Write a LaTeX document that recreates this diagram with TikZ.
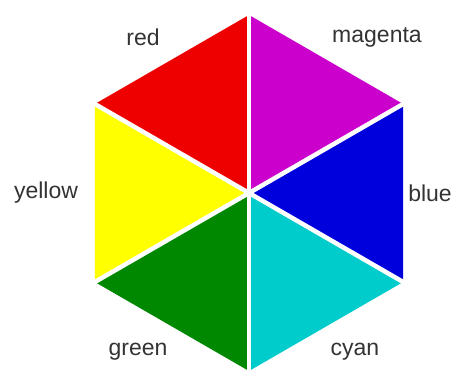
\documentclass[tikz,border=0pt]{standalone}
\usepackage{fontspec}
\setmainfont{Liberation Sans}
\usetikzlibrary{calc}
\definecolor{cred}{RGB}{238,0,0}
\definecolor{cmag}{RGB}{204,0,204}
\definecolor{cblue}{RGB}{0,0,221}
\definecolor{ccyan}{RGB}{0,204,204}
\definecolor{cgreen}{RGB}{0,136,0}
\definecolor{cyel}{RGB}{255,255,0}
\begin{document}
\begin{tikzpicture}[x=1pt,y=1pt,
  lab/.style={font=\fontsize{23}{26}\selectfont, text=black!80, inner sep=0pt},
  gap/.style={white, line width=4.5pt}]
\useasboundingbox (0,0) rectangle (453,373);
\coordinate (C) at (249,180);
\foreach \a/\n in {90/t,30/ur,-30/lr,-90/b,-150/ll,150/ul}{
  \coordinate (\n) at ($(C)+(\a:178)$);
}
\fill[cred]   (C) -- (t)  -- (ul) -- cycle;
\fill[cmag]   (C) -- (t)  -- (ur) -- cycle;
\fill[cblue]  (C) -- (ur) -- (lr) -- cycle;
\fill[ccyan]  (C) -- (lr) -- (b)  -- cycle;
\fill[cgreen] (C) -- (b)  -- (ll) -- cycle;
\fill[cyel]   (C) -- (ll) -- (ul) -- cycle;
\foreach \a in {90,30,-30,-90,-150,150}{
  \draw[gap] (C) -- ($(C)+(\a:190)$);
}
\node[lab] (lred) at (143,336) {red};
\node[lab] (lmag) at (377,336) {magenta};
\node[lab] (lyel) at (46,180) {yellow};
\node[lab] (lblue) at (430,180) {blue};
\node[lab] (lgreen) at (138,21) {green};
\node[lab] (lcyan) at (355,21) {cyan};
\end{tikzpicture}
\end{document}
